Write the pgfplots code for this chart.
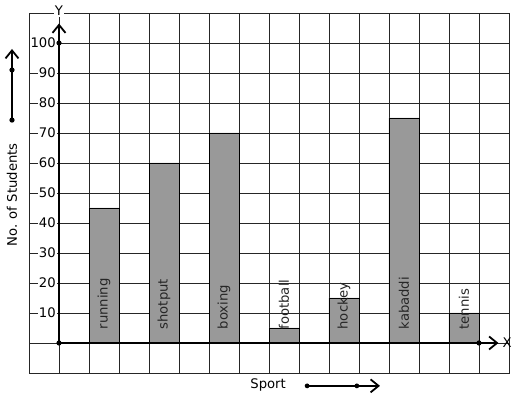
\documentclass[border=0pt]{standalone}
\usepackage{pgfplots}
\pgfplotsset{compat=1.18}
\usepackage{fontspec}
\setmainfont{DejaVu Sans}
\usetikzlibrary{arrows.meta}
\begin{document}
\fontsize{13.2}{15}\selectfont
\begin{tikzpicture}[>={Straight Barb[length=8pt,width=13pt,line width=1.8pt]}]
\begin{axis}[
 scale only axis, width=480pt, height=360pt,
 xmin=-1, xmax=15, ymin=-10, ymax=110,
 xtick={-1,0,...,15}, ytick={-10,0,...,110},
 xticklabels={,,}, yticklabels={,,},
 major tick length=0pt,
 grid=major, grid style={black!85, line width=0.8pt},
 axis line style={black!85, line width=0.8pt},
 clip=false,
 ybar, bar width=1,
]
\addplot[fill=black!40, draw=black, line width=0.6pt, bar shift=0pt] coordinates {(1.5,45) (3.5,60) (5.5,70) (7.5,5) (9.5,15) (11.5,75) (13.5,10)};
% bar labels
\node[rotate=90, anchor=west, text=black!85] at (axis cs:1.5,3.0) {running};
\node[rotate=90, anchor=west, text=black!85] at (axis cs:3.5,3.0) {shotput};
\node[rotate=90, anchor=west, text=black!85] at (axis cs:5.5,3.0) {boxing};
\node[rotate=90, anchor=west, text=black!85] at (axis cs:7.5,3.0) {football};
\node[rotate=90, anchor=west, text=black!85] at (axis cs:9.5,3.0) {hockey};
\node[rotate=90, anchor=west, text=black!85] at (axis cs:11.5,3.0) {kabaddi};
\node[rotate=90, anchor=west, text=black!85] at (axis cs:13.5,3.0) {tennis};
% tick labels
\pgfplotsinvokeforeach{10,20,30,40,50,60,70,80,90,100}{
 \node[anchor=east, fill=white, inner sep=1pt] at (axis cs:-0.07,#1) {#1};
}
% axes
\draw[line width=2.6pt, ->] (axis cs:0,0) -- (axis cs:0,106.5);
\draw[line width=2.6pt, ->] (axis cs:0,0) -- (axis cs:14.65,0);
\fill (axis cs:0,0) circle (2.6pt);
\fill (axis cs:0,100) circle (2.6pt);
\fill (axis cs:14,0) circle (2.6pt);
\node[fill=white, inner sep=1pt] at (axis cs:0,110.6) {Y};
\node[anchor=west, inner sep=1pt] at (axis cs:14.75,0) {X};
% left label & arrow
\draw[line width=2.4pt, ->] (axis cs:-1.567,74.3) -- (axis cs:-1.567,98);
\fill (axis cs:-1.567,74.3) circle (2.6pt);
\fill (axis cs:-1.567,91) circle (2.6pt);
\node[rotate=90] at (axis cs:-1.567,49.3) {No. of Students};
% bottom label & arrow
\node at (axis cs:6.97,-14) {Sport};
\draw[line width=2.0pt, ->] (axis cs:8.27,-14.3) -- (axis cs:10.7,-14.3);
\fill (axis cs:8.27,-14.3) circle (2.4pt);
\fill (axis cs:9.93,-14.3) circle (2.4pt);
\coordinate (bl) at (axis cs:-1.967,-18.67);
\coordinate (tr) at (axis cs:15.267,114.33);
\end{axis}
\pgfresetboundingbox
\path[use as bounding box] (bl) rectangle (tr);
\end{tikzpicture}
\end{document}
